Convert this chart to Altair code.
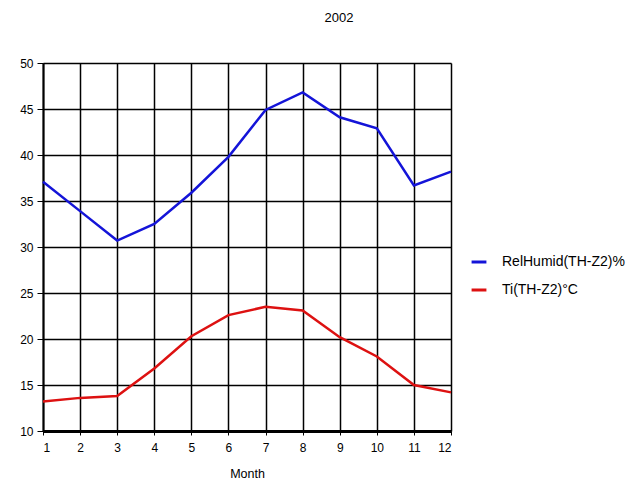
import altair as alt
import pandas as pd

months = [1, 2, 3, 4, 5, 6, 7, 8, 9, 10, 11, 12]
humid = [37.1, 33.9, 30.7, 32.5, 35.9, 39.8, 44.9, 46.8, 44.1, 42.9, 36.7, 38.2]
temp = [13.2, 13.6, 13.8, 16.8, 20.3, 22.6, 23.5, 23.1, 20.2, 18.1, 15.0, 14.2]
series = ["RelHumid(TH-Z2)%", "Ti(TH-Z2)°C"]
colors = ["#1414d8", "#dd1111"]

rows = []
for m, h, t in zip(months, humid, temp):
    rows.append({"Month": m, "value": h, "series": series[0]})
    rows.append({"Month": m, "value": t, "series": series[1]})
df = pd.DataFrame(rows)

FONT = "Liberation Sans"

chart = alt.Chart(df).mark_line(strokeWidth=2.5).encode(
    x=alt.X("Month:Q",
            scale=alt.Scale(domain=[1, 12], nice=False),
            axis=alt.Axis(values=months, title="Month", grid=True,
                          gridColor="black", gridWidth=1.5, gridOpacity=1,
                          domainColor="black", domainWidth=3,
                          tickColor="black", tickSize=4,
                          labelFontSize=12, labelColor="black", labelFont=FONT,
                          labelPadding=7,
                          titleFontSize=12.5, titleFontWeight="normal",
                          titleColor="black", titleFont=FONT, titlePadding=14)),
    y=alt.Y("value:Q",
            scale=alt.Scale(domain=[10, 50], nice=False),
            axis=alt.Axis(values=[10, 15, 20, 25, 30, 35, 40, 45, 50], title=None,
                          grid=True, gridColor="black", gridWidth=1.5, gridOpacity=1,
                          domainColor="black", domainWidth=2,
                          tickColor="black", tickSize=6,
                          labelFontSize=12, labelColor="black", labelFont=FONT,
                          labelPadding=4)),
    color=alt.Color("series:N",
                    scale=alt.Scale(domain=series, range=colors),
                    legend=alt.Legend(title=None, orient="none",
                                      legendX=427, legendY=190,
                                      symbolType="stroke", symbolStrokeWidth=3,
                                      symbolSize=220, labelOffset=14,
                                      labelFontSize=14, labelFont=FONT,
                                      labelColor="black", rowPadding=12)),
).properties(
    width=408, height=368,
    title=alt.TitleParams("2002", fontSize=13, fontWeight="normal", font=FONT,
                          color="black", offset=32, dx=92),
    padding={"left": 35, "top": 55, "right": 182, "bottom": 50},
    autosize=alt.AutoSizeParams(type="none"),
).configure_view(stroke="black", strokeWidth=1.5).configure(background="white")

chart.save("out.html", embed_options={"renderer": "svg", "actions": False})
